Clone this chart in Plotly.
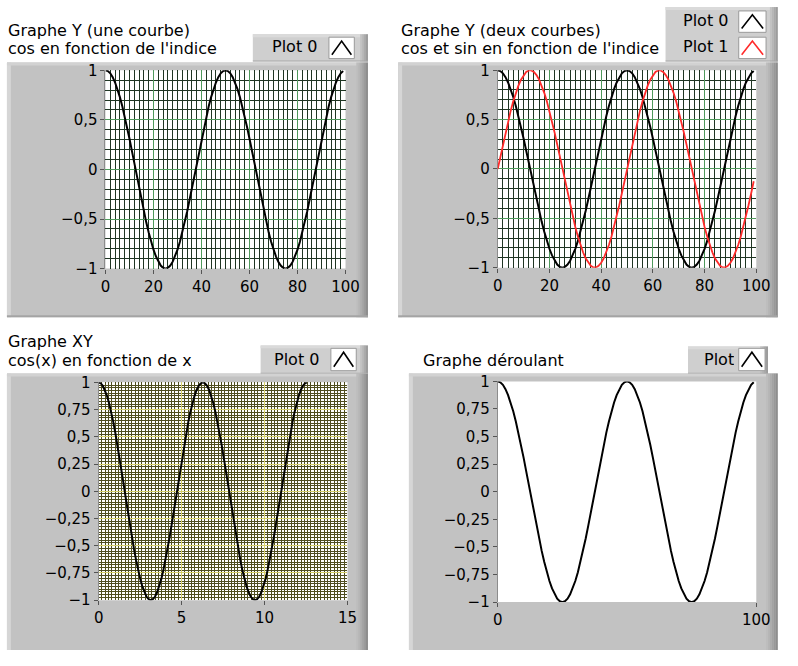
import plotly.graph_objects as go

# page is 798x666; the figure sits inside the page body's 8 px margin
PAGE_W, PAGE_H = 798, 666
OFF = 8
W, H = PAGE_W - 2 * OFF, PAGE_H - 2 * OFF
FONT = "DejaVu Sans"

# ---- data -------------------------------------------------------------
INDICES = list(range(100))

COS_INDEX = [
    1.000, 0.992, 0.969, 0.930, 0.876, 0.809, 0.729, 0.637, 0.536, 0.426,
    0.309, 0.187, 0.063, -0.063, -0.187, -0.309, -0.426, -0.536, -0.637, -0.729,
    -0.809, -0.876, -0.930, -0.969, -0.992, -1.000, -0.992, -0.969, -0.930, -0.876,
    -0.809, -0.729, -0.637, -0.536, -0.426, -0.309, -0.187, -0.063, 0.063, 0.187,
    0.309, 0.426, 0.536, 0.637, 0.729, 0.809, 0.876, 0.930, 0.969, 0.992,
    1.000, 0.992, 0.969, 0.930, 0.876, 0.809, 0.729, 0.637, 0.536, 0.426,
    0.309, 0.187, 0.063, -0.063, -0.187, -0.309, -0.426, -0.536, -0.637, -0.729,
    -0.809, -0.876, -0.930, -0.969, -0.992, -1.000, -0.992, -0.969, -0.930, -0.876,
    -0.809, -0.729, -0.637, -0.536, -0.426, -0.309, -0.187, -0.063, 0.063, 0.187,
    0.309, 0.426, 0.536, 0.637, 0.729, 0.809, 0.876, 0.930, 0.969, 0.992,
]

SIN_INDEX = [
    0.000, 0.125, 0.249, 0.368, 0.482, 0.588, 0.685, 0.771, 0.844, 0.905,
    0.951, 0.982, 0.998, 0.998, 0.982, 0.951, 0.905, 0.844, 0.771, 0.685,
    0.588, 0.482, 0.368, 0.249, 0.125, 0.000, -0.125, -0.249, -0.368, -0.482,
    -0.588, -0.685, -0.771, -0.844, -0.905, -0.951, -0.982, -0.998, -0.998, -0.982,
    -0.951, -0.905, -0.844, -0.771, -0.685, -0.588, -0.482, -0.368, -0.249, -0.125,
    0.000, 0.125, 0.249, 0.368, 0.482, 0.588, 0.685, 0.771, 0.844, 0.905,
    0.951, 0.982, 0.998, 0.998, 0.982, 0.951, 0.905, 0.844, 0.771, 0.685,
    0.588, 0.482, 0.368, 0.249, 0.125, 0.000, -0.125, -0.249, -0.368, -0.482,
    -0.588, -0.685, -0.771, -0.844, -0.905, -0.951, -0.982, -0.998, -0.998, -0.982,
    -0.951, -0.905, -0.844, -0.771, -0.685, -0.588, -0.482, -0.368, -0.249, -0.125,
]

X_RAD = [
    0.000, 0.126, 0.251, 0.377, 0.503, 0.628, 0.754, 0.880, 1.005, 1.131,
    1.257, 1.382, 1.508, 1.634, 1.759, 1.885, 2.011, 2.136, 2.262, 2.388,
    2.513, 2.639, 2.765, 2.890, 3.016, 3.142, 3.267, 3.393, 3.519, 3.644,
    3.770, 3.896, 4.021, 4.147, 4.273, 4.398, 4.524, 4.650, 4.775, 4.901,
    5.027, 5.152, 5.278, 5.404, 5.529, 5.655, 5.781, 5.906, 6.032, 6.158,
    6.283, 6.409, 6.535, 6.660, 6.786, 6.912, 7.037, 7.163, 7.288, 7.414,
    7.540, 7.665, 7.791, 7.917, 8.042, 8.168, 8.294, 8.419, 8.545, 8.671,
    8.796, 8.922, 9.048, 9.173, 9.299, 9.425, 9.550, 9.676, 9.802, 9.927,
    10.053, 10.179, 10.304, 10.430, 10.556, 10.681, 10.807, 10.933, 11.058, 11.184,
    11.310, 11.435, 11.561, 11.687, 11.812, 11.938, 12.064, 12.189, 12.315, 12.441,
    12.566,
]
COS_X = COS_INDEX + [1.000]

Y_TICKS_HALF = [-1, -0.5, 0, 0.5, 1]
Y_TEXT_HALF = ["\u22121", "\u22120,5", "0", "0,5", "1"]
Y_TICKS_QUARTER = [-1, -0.75, -0.5, -0.25, 0, 0.25, 0.5, 0.75, 1]
Y_TEXT_QUARTER = ["\u22121", "\u22120,75", "\u22120,5", "\u22120,25", "0",
                  "0,25", "0,5", "0,75", "1"]
X_TICKS_INDEX = [0, 20, 40, 60, 80, 100]
X_TICKS_RAD = [0, 5, 10, 15]
X_TICKS_CHART = [0, 100]


# ---- helpers (page pixel -> paper) ------------------------------------
def fx(px):
    return (px - OFF) / W


def fy(py):
    return 1 - (py - OFF) / H


shapes = []
annotations = []


def rect(x0, y0, x1, y1, fill, line_color=None, line_width=0):
    shapes.append(dict(type="rect", xref="paper", yref="paper",
                       x0=fx(x0), x1=fx(x1), y0=fy(y1), y1=fy(y0),
                       fillcolor=fill, layer="below",
                       line=dict(width=line_width, color=line_color or fill)))


def frame(x0, y0, x1, y1):
    rect(x0, y0, x1, y1, "#c2c2c2")
    rect(x0, y0, x0 + 4, y1, "#d6d6d6")
    rect(x0, y0, x1, y0 + 3, "#d2d2d2")
    shades = ["#bdbdbd", "#b6b6b6", "#adadad", "#a3a3a3", "#999999", "#8e8e8e"]
    for i, c in enumerate(shades):
        rect(x1 - 12 + 2 * i, y0, x1 - 10 + 2 * i, y1, c)
    rect(x0, y1 - 2, x1, y1, "#a4a4a4")


def legend_box(x0, y0, x1, y1):
    rect(x0, y0, x1, y1, "#cfcfcf")
    rect(x0, y0, x1, y0 + 3, "#dadada")
    shades = ["#c2c2c2", "#b6b6b6", "#a9a9a9", "#9c9c9c"]
    for i, c in enumerate(shades):
        rect(x1 - 8 + 2 * i, y0, x1 - 6 + 2 * i, y1, c)
    rect(x0, y1 - 1, x1, y1, "#a8a8a8")


def sample(x0, y0, x1, y1, color):
    rect(x0, y0, x1, y1, "white", "#9a9a9a", 1)
    xm = (x0 + x1) / 2
    path = (f"M {fx(x0 + 3)},{fy(y1 - 4)} L {fx(xm)},{fy(y0 + 4)} "
            f"L {fx(x1 - 3)},{fy(y1 - 4)}")
    shapes.append(dict(type="path", xref="paper", yref="paper", path=path,
                       line=dict(color=color, width=1.6), layer="below"))


def text(px, py, s, size=16, xanchor="left"):
    annotations.append(dict(x=fx(px), y=fy(py), xref="paper", yref="paper",
                            text=s, showarrow=False, xanchor=xanchor,
                            yanchor="middle", height=17, borderpad=0,
                            font=dict(family=FONT, size=size, color="black")))


def plot_bg(n):
    ref = "" if n == 1 else str(n)
    shapes.append(dict(type="rect", xref=f"x{ref} domain", yref=f"y{ref} domain",
                       x0=0, x1=1, y0=0, y1=1, fillcolor="white",
                       line=dict(width=0), layer="below"))


# ---- panel decorations -------------------------------------------------
frame(10, 63, 380, 325)
frame(411, 63, 800, 325)
frame(10, 383, 380, 670)
frame(422, 383, 800, 670)
for n in (1, 2, 3, 4):
    plot_bg(n)

# titles (two lines each, 19 px apart)
text(10, 30, "Graphe Y (une courbe)")
text(10, 49, "cos en fonction de l'indice")
text(413, 30, "Graphe Y (deux courbes)")
text(413, 49, "cos et sin en fonction de l'indice")
text(10, 350, "Graphe XY")
text(10, 369, "cos(x) en fonction de x")
text(435, 369, "Graphe déroulant")

# legends
legend_box(262, 34, 380, 62)
text(281, 47, "Plot 0")
sample(340, 37, 366, 59, "black")

legend_box(685, 6, 800, 62)
text(702, 20, "Plot 0")
sample(760, 10, 788, 32, "black")
text(702, 47, "Plot 1")
sample(760, 37, 788, 59, "#ff2a2a")

legend_box(270, 354, 380, 383)
text(283, 368, "Plot 0")
sample(342, 357, 368, 380, "black")

legend_box(708, 355, 790, 383)
text(723, 368, "Plot")
sample(760, 357, 787, 380, "black")

# ---- traces -----------------------------------------------------------
fig = go.Figure()
fig.add_trace(go.Scatter(x=INDICES, y=COS_INDEX, xaxis="x", yaxis="y",
                         mode="lines", line=dict(color="black", width=2)))
fig.add_trace(go.Scatter(x=INDICES, y=COS_INDEX, xaxis="x2", yaxis="y2",
                         mode="lines", line=dict(color="black", width=2)))
fig.add_trace(go.Scatter(x=INDICES, y=SIN_INDEX, xaxis="x2", yaxis="y2",
                         mode="lines", line=dict(color="#ff2a2a", width=1.8)))
fig.add_trace(go.Scatter(x=X_RAD, y=COS_X, xaxis="x3", yaxis="y3",
                         mode="lines", line=dict(color="black", width=2)))
fig.add_trace(go.Scatter(x=INDICES, y=COS_INDEX, xaxis="x4", yaxis="y4",
                         mode="lines", line=dict(color="black", width=2)))


# ---- axes -------------------------------------------------------------
def axis(domain, rng, vals, texts, anchor, major=None, minor_dtick=None,
         minor_color=None, is_y=False):
    a = dict(domain=domain, range=rng, anchor=anchor, tickmode="array",
             tickvals=vals, ticktext=texts, ticks="outside", ticklen=4,
             tickwidth=1, tickcolor="#555555", zeroline=False,
             showgrid=major is not None, gridcolor=major, gridwidth=1.3,
             tickfont=dict(family=FONT, size=15, color="black"),
             fixedrange=True, layer="below traces")
    if is_y:
        a.update(showline=True, linecolor="#8c8c8c", linewidth=1)
    else:
        a.update(showline=False)
    if minor_dtick is not None:
        a["minor"] = dict(tickmode="linear", tick0=0, dtick=minor_dtick,
                          showgrid=True, gridcolor=minor_color, gridwidth=1,
                          ticks="")
    return a


GREEN_MAJ, GREEN_MIN = "#4f9a5c", "#1f3523"
YEL_MAJ, YEL_MIN = "#d6cf6a", "#4f4d1e"

layout_axes = dict(
    xaxis=axis([fx(111), fx(357)], [0, 100], X_TICKS_INDEX,
               [str(v) for v in X_TICKS_INDEX], "y", GREEN_MAJ, 2, GREEN_MIN),
    yaxis=axis([fy(275), fy(71)], [-1, 1], Y_TICKS_HALF, Y_TEXT_HALF, "x",
               GREEN_MAJ, 0.1, GREEN_MIN, is_y=True),
    xaxis2=axis([fx(513), fx(778)], [0, 100], X_TICKS_INDEX,
                [str(v) for v in X_TICKS_INDEX], "y2", GREEN_MAJ, 2, GREEN_MIN),
    yaxis2=axis([fy(274), fy(71)], [-1, 1], Y_TICKS_HALF, Y_TEXT_HALF, "x2",
                GREEN_MAJ, 0.1, GREEN_MIN, is_y=True),
    xaxis3=axis([fx(104), fx(359)], [0, 15], X_TICKS_RAD,
                [str(v) for v in X_TICKS_RAD], "y3", YEL_MAJ, 0.2, YEL_MIN),
    yaxis3=axis([fy(616), fy(392)], [-1, 1], Y_TICKS_QUARTER, Y_TEXT_QUARTER,
                "x3", YEL_MAJ, 0.025, YEL_MIN, is_y=True),
    xaxis4=axis([fx(513), fx(778)], [0, 100], X_TICKS_CHART,
                [str(v) for v in X_TICKS_CHART], "y4"),
    yaxis4=axis([fy(618), fy(391)], [-1, 1], Y_TICKS_QUARTER, Y_TEXT_QUARTER,
                "x4", is_y=True),
)

fig.update_layout(
    width=W, height=H, margin=dict(l=0, r=0, t=0, b=0),
    paper_bgcolor="white", plot_bgcolor="rgba(0,0,0,0)",
    showlegend=False, shapes=shapes, annotations=annotations,
    font=dict(family=FONT, size=15, color="black"),
    **layout_axes,
)

fig.write_html("out.html", config={"displayModeBar": False})
